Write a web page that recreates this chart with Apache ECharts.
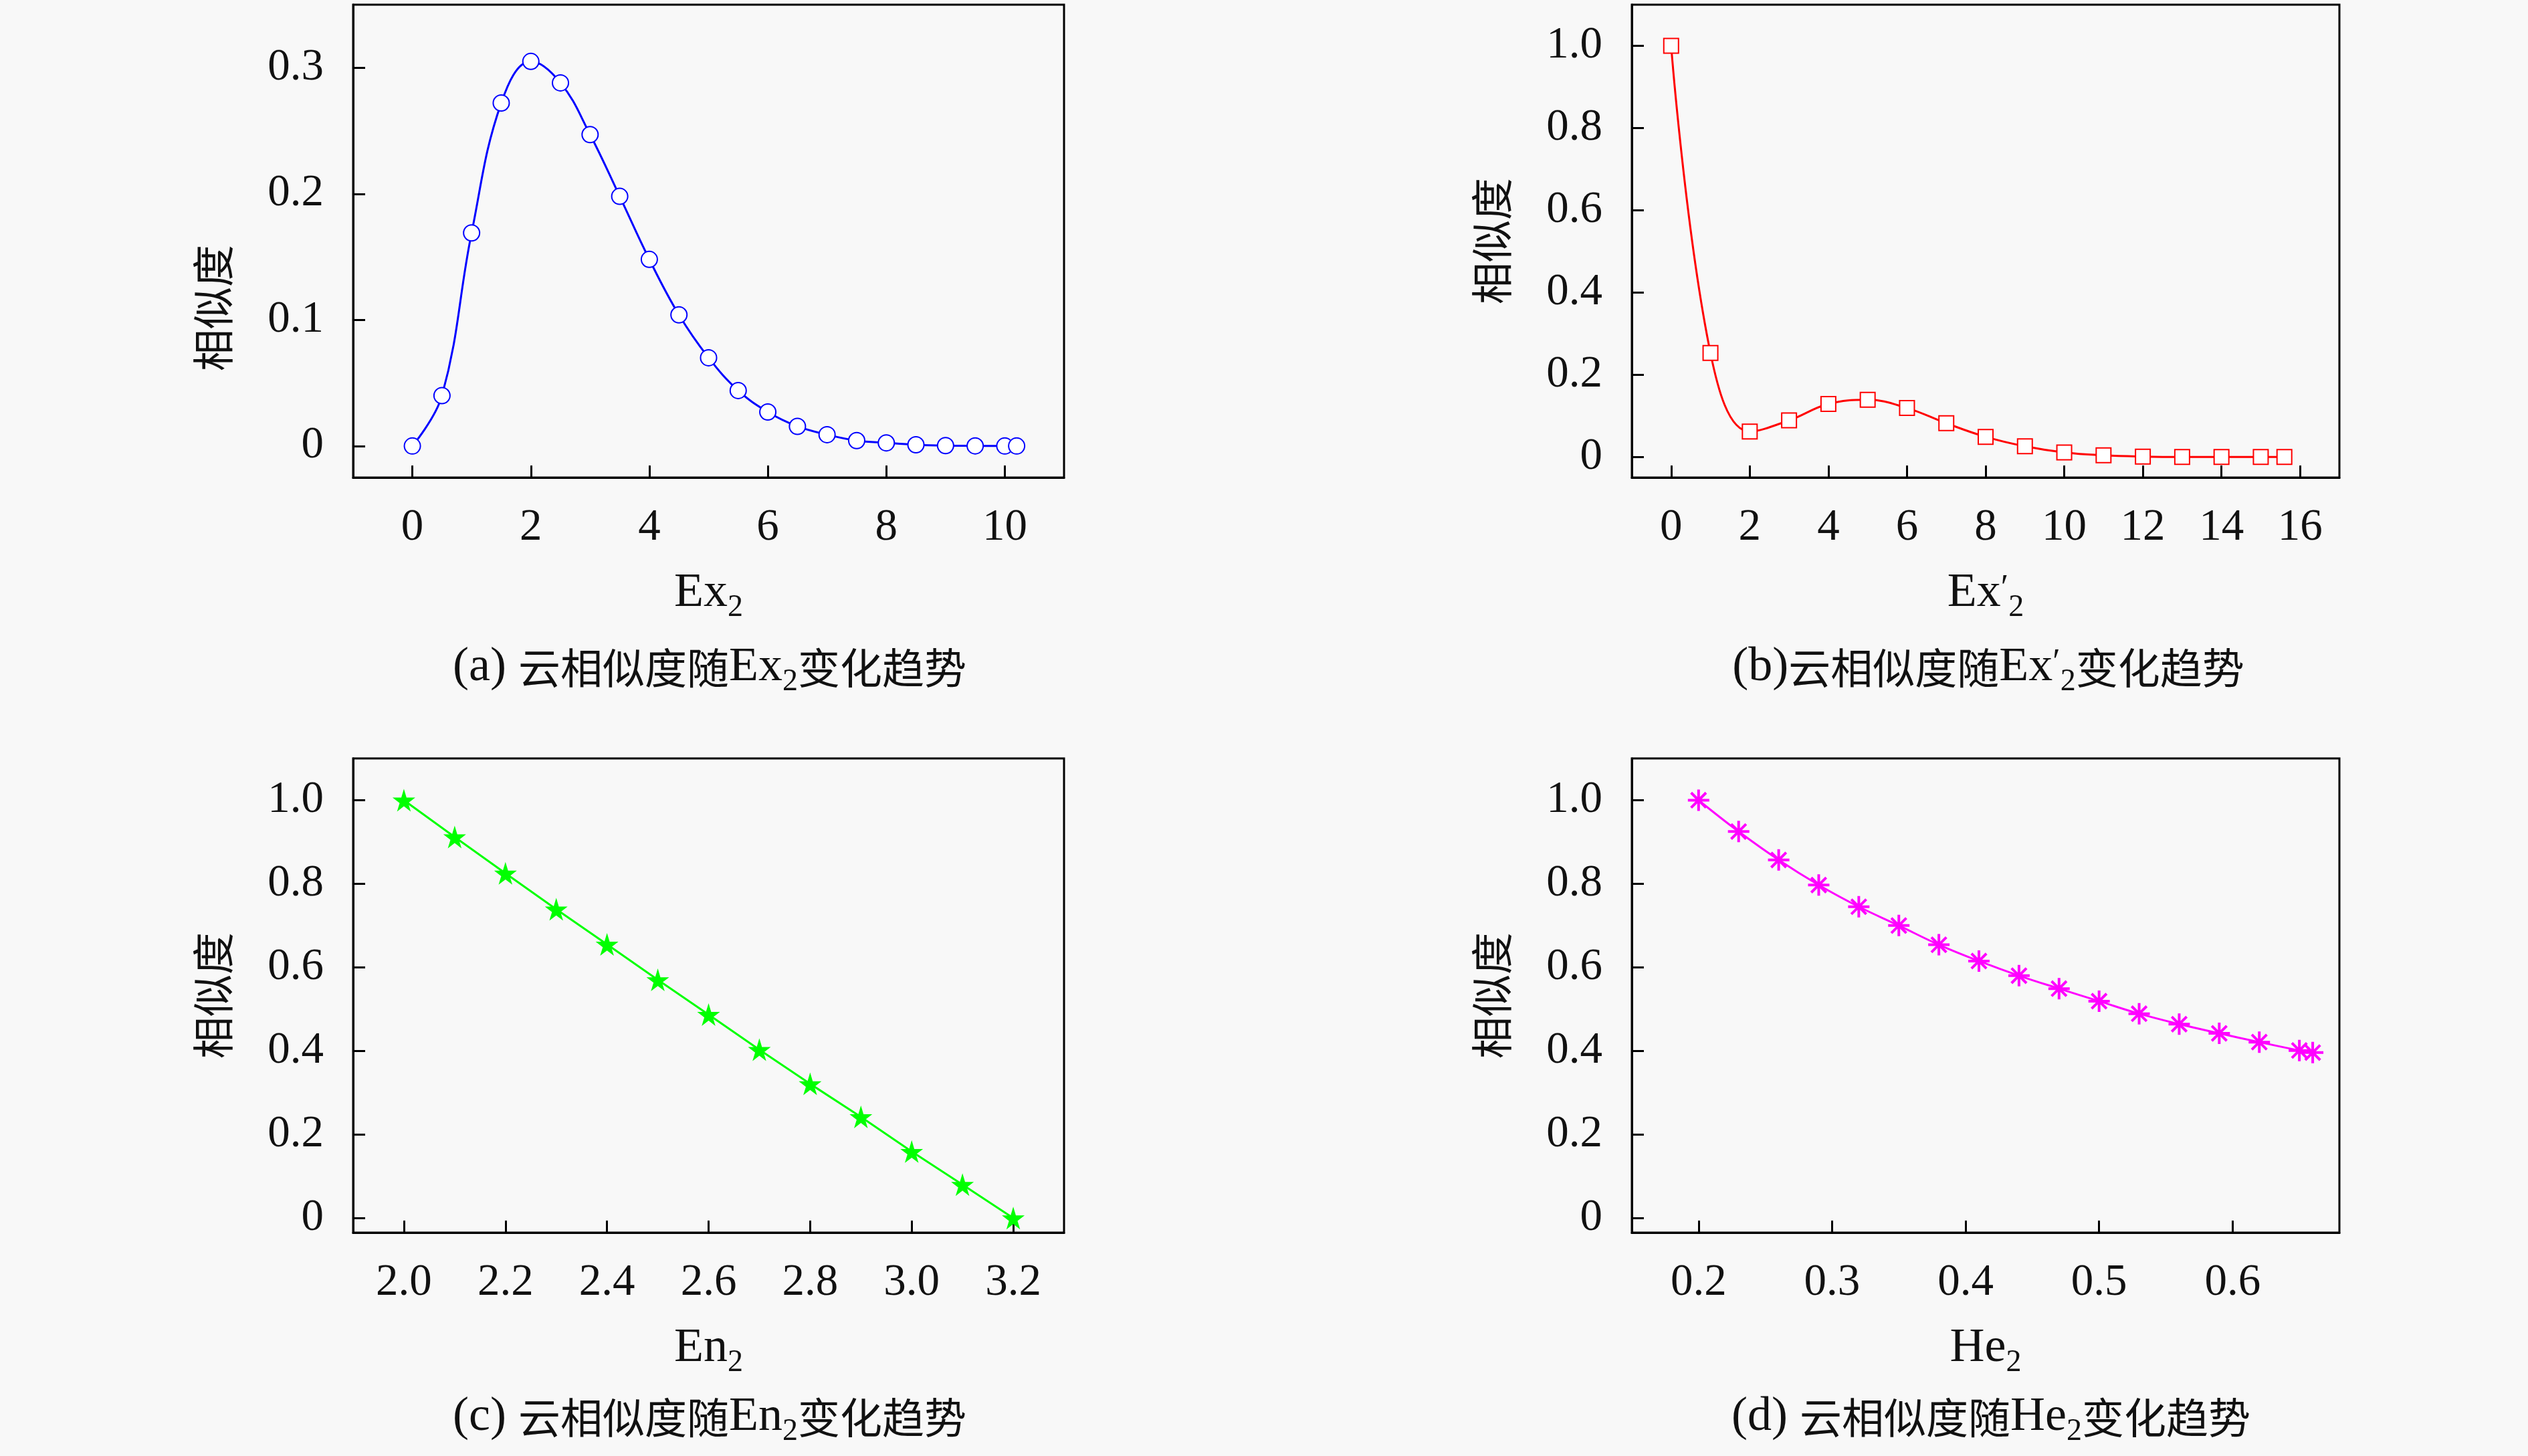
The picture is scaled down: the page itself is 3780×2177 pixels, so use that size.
<!DOCTYPE html>
<html>
<head>
<meta charset="utf-8">
<script src="https://cdn.jsdelivr.net/npm/echarts@6/dist/echarts.min.js"></script>
<style>
  html, body { margin: 0; padding: 0; background: #f8f8f8; }
  #main { width: 3780px; height: 2177px; }
</style>
</head>
<body>
<div id="main"></div>
<script>
// (a) similarity vs Ex2
var exA = [0, 0.5, 1, 1.5, 2, 2.5, 3, 3.5, 4, 4.5, 5, 5.5, 6, 6.5, 7, 7.5, 8, 8.5, 9, 9.5, 10, 10.2];
var simA = [0, 0.040, 0.169, 0.272, 0.305, 0.288, 0.247, 0.198, 0.148, 0.104, 0.070, 0.044, 0.027, 0.0156, 0.009, 0.0043, 0.0025, 0.001, 0.0003, 0.0001, 0, 0];
// (b) similarity vs Ex2'
var exB = [0, 1, 2, 3, 4, 5, 6, 7, 8, 9, 10, 11, 12, 13, 14, 15, 15.6];
var simB = [1.0, 0.253, 0.062, 0.089, 0.129, 0.139, 0.119, 0.082, 0.049, 0.026, 0.011, 0.004, 0.001, 0, 0, 0, 0];
// (c) similarity vs En2
var enC = [2.0, 2.1, 2.2, 2.3, 2.4, 2.5, 2.6, 2.7, 2.8, 2.9, 3.0, 3.1, 3.2];
var simC = [1.0, 0.912, 0.825, 0.739, 0.655, 0.570, 0.487, 0.403, 0.321, 0.242, 0.159, 0.080, 0];
// (d) similarity vs He2
var heD = [0.2, 0.23, 0.26, 0.29, 0.32, 0.35, 0.38, 0.41, 0.44, 0.47, 0.50, 0.53, 0.56, 0.59, 0.62, 0.65, 0.66];
var simD = [1.0, 0.925, 0.857, 0.797, 0.745, 0.700, 0.654, 0.615, 0.580, 0.549, 0.519, 0.489, 0.464, 0.442, 0.421, 0.401, 0.396];

// tick labels
var xTicksA = [0, 2, 4, 6, 8, 10];
var yTicksA = [0, 0.1, 0.2, 0.3];
var xTicksB = [0, 2, 4, 6, 8, 10, 12, 14, 16];
var yTicksB = [0, 0.2, 0.4, 0.6, 0.8, 1.0];
var xTicksC = [2.0, 2.2, 2.4, 2.6, 2.8, 3.0, 3.2];
var xTicksD = [0.2, 0.3, 0.4, 0.5, 0.6];

var yName = '相似度';
var captions = [
  '{l|(a) }{c|云相似度随}{l|Ex}{s|2}{c|变化趋势}',
  '{l|(b)}{c|云相似度随}{l|Ex}{p|′}{s|2}{c|变化趋势}',
  '{l|(c) }{c|云相似度随}{l|En}{s|2}{c|变化趋势}',
  '{l|(d) }{c|云相似度随}{l|He}{s|2}{c|变化趋势}'
];
var xNames = ['{l|Ex}{s|2}', '{l|Ex}{p|′}{s|2}', '{l|En}{s|2}', '{l|He}{s|2}'];

var SERIF = "'Liberation Serif', serif";
var CJK = "'Noto Sans CJK SC', sans-serif";
var TXT = '#111';
var FS_NUM = 67;
var rich = {
  l: { fontFamily: SERIF, fontSize: 72, color: TXT },
  c: { fontFamily: CJK, fontSize: 63, color: TXT },
  s: { fontFamily: SERIF, fontSize: 46, color: TXT, padding: [44, 0, 0, 0] },
  p: { fontFamily: SERIF, fontSize: 52, color: TXT, padding: [0, 0, 12, 0] }
};

var grids = [
  { left: 528, top: 7, width: 1063, height: 707 },
  { left: 2440, top: 7, width: 1058, height: 707 },
  { left: 528, top: 1134, width: 1063, height: 709 },
  { left: 2440, top: 1134, width: 1058, height: 709 }
];
grids.forEach(function (g) {
  g.show = true;
  g.borderColor = '#000';
  g.borderWidth = 3;
  g.backgroundColor = 'transparent';
  g.containLabel = false;
  g.outerBoundsMode = 'none';
});

function fmt1(v) { return v === 0 ? '0' : v.toFixed(1); }
function fmtInt(v) { return String(Math.round(v)); }

function xAx(i, min, max, ticks, f, gap) {
  return {
    type: 'value', gridIndex: i, min: min, max: max,
    name: xNames[i], nameLocation: 'middle', nameGap: gap,
    nameTextStyle: { fontFamily: SERIF, fontSize: 72, color: TXT, rich: rich },
    axisLine: { show: true, onZero: false, lineStyle: { color: '#000', width: 3 } },
    axisTick: { show: true, inside: true, length: 18, customValues: ticks, lineStyle: { color: '#000', width: 3 } },
    axisLabel: { customValues: ticks, formatter: f, margin: 42, fontFamily: SERIF, fontSize: FS_NUM, color: TXT },
    splitLine: { show: false }
  };
}
function yAx(i, min, max, ticks, f, pad) {
  return {
    type: 'value', gridIndex: i, min: min, max: max,
    name: yName, nameLocation: 'middle', nameGap: 178,
    nameTextStyle: { fontFamily: CJK, fontSize: 63, color: TXT, padding: pad },
    axisLine: { show: true, onZero: false, lineStyle: { color: '#000', width: 3 } },
    axisTick: { show: true, inside: true, length: 18, customValues: ticks, lineStyle: { color: '#000', width: 3 } },
    axisLabel: { customValues: ticks, formatter: f, margin: 44, fontFamily: SERIF, fontSize: FS_NUM, color: TXT },
    splitLine: { show: false }
  };
}

function pairs(xs, ys) {
  return xs.map(function (x, k) { return [x, ys[k]]; });
}

var starPath = 'path://M50,0 L61,35 L98,35 L68,57 L79,91 L50,70 L21,91 L32,57 L2,35 L39,35 Z';
var asteriskPath = 'path://M0,50 L100,50 M50,0 L50,100 M15,15 L85,85 M85,15 L15,85';

var titles = [
  { x: 1056, y: 948 },
  { x: 2968, y: 948 },
  { x: 1056, y: 2069 },
  { x: 2972, y: 2069 }
].map(function (p, i) {
  return {
    text: captions[i], left: p.x, top: p.y, textAlign: 'center',
    textStyle: { fontFamily: SERIF, fontSize: 72, fontWeight: 'normal', color: TXT, rich: rich }
  };
});

var option = {
  backgroundColor: '#f8f8f8',
  animation: false,
  title: titles,
  grid: grids,
  xAxis: [
    xAx(0, -1, 11, xTicksA, fmtInt, 128),
    xAx(1, -1, 17, xTicksB, fmtInt, 128),
    xAx(2, 1.9, 3.3, xTicksC, fmt1, 128),
    xAx(3, 0.15, 0.68, xTicksD, fmt1, 128)
  ],
  yAxis: [
    yAx(0, -0.025, 0.35, yTicksA, fmt1, [0, 200, 0, 0]),
    yAx(1, -0.05, 1.1, yTicksB, fmt1, 0),
    yAx(2, -0.035, 1.1, yTicksB, fmt1, 0),
    yAx(3, -0.035, 1.1, yTicksB, fmt1, 0)
  ],
  series: [
    {
      type: 'line', xAxisIndex: 0, yAxisIndex: 0, data: pairs(exA, simA), smooth: 0.4,
      symbol: 'emptyCircle', symbolSize: 24,
      lineStyle: { color: '#0000ff', width: 3 },
      itemStyle: { color: '#0000ff', borderColor: '#0000ff', borderWidth: 4 }
    },
    {
      type: 'line', xAxisIndex: 1, yAxisIndex: 1, data: pairs(exB, simB), smooth: 0.4,
      symbol: 'emptyRect', symbolSize: 22,
      lineStyle: { color: '#ff0000', width: 3 },
      itemStyle: { color: '#ff0000', borderColor: '#ff0000', borderWidth: 4 }
    },
    {
      type: 'line', xAxisIndex: 2, yAxisIndex: 2, data: pairs(enC, simC), smooth: false,
      symbol: starPath, symbolSize: 34,
      lineStyle: { color: '#00ff00', width: 3 },
      itemStyle: { color: '#00ff00' }
    },
    {
      type: 'line', xAxisIndex: 3, yAxisIndex: 3, data: pairs(heD, simD), smooth: 0.4,
      symbol: asteriskPath, symbolSize: 32,
      lineStyle: { color: '#ff00ff', width: 3 },
      itemStyle: { color: 'transparent', borderColor: '#ff00ff', borderWidth: 4 }
    }
  ]
};

var chart = echarts.init(document.getElementById('main'));
chart.setOption(option);
</script>
</body>
</html>
